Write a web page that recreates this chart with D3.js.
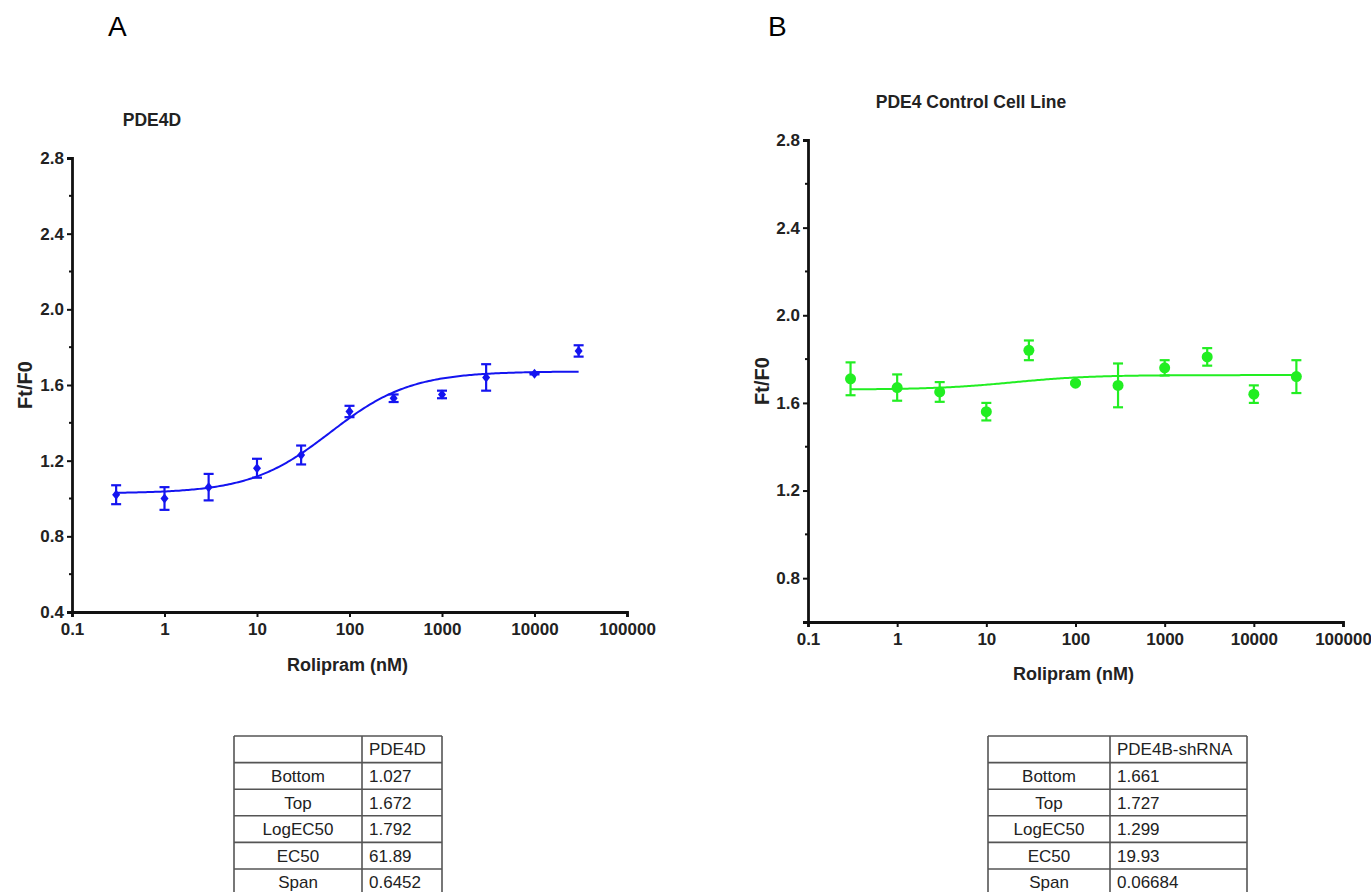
<!DOCTYPE html>
<html>
<head>
<meta charset="utf-8">
<script src="https://cdn.jsdelivr.net/npm/d3@7"></script>
<style>
  body { margin: 0; background: #fff; }
  svg { display: block; font-family: Arial, "Liberation Sans", sans-serif; }
  .tick text { font-weight: bold; font-size: 17px; fill: #222; }
</style>
</head>
<body>
<svg id="chart" width="1371" height="892"></svg>
<script>
// concentrations of rolipram (nM)
var conc = [0.3, 1, 3, 10, 30, 100, 300, 1000, 3000, 10000, 30000];

// panel A, PDE4D
var pde4dMean = [1.02, 1.00, 1.06, 1.16, 1.23, 1.46, 1.53, 1.55, 1.64, 1.66, 1.78];
var pde4dErr  = [0.05, 0.06, 0.07, 0.05, 0.05, 0.03, 0.02, 0.02, 0.07, 0.004, 0.03];

// panel B, control cell line
var ctrlMean = [1.71, 1.67, 1.65, 1.56, 1.84, 1.69, 1.68, 1.76, 1.81, 1.64, 1.72];
var ctrlErr  = [0.075, 0.06, 0.045, 0.04, 0.045, 0.005, 0.1, 0.035, 0.04, 0.04, 0.075];

var xTicks = [0.1, 1, 10, 100, 1000, 10000, 100000];
var yTicksA = [0.4, 0.8, 1.2, 1.6, 2.0, 2.4, 2.8];
var yTicksB = [0.8, 1.2, 1.6, 2.0, 2.4, 2.8];

// fit results shown in the tables
var fitLabels = ["Bottom", "Top", "LogEC50", "EC50", "Span"];
var pde4dFit = ["1.027", "1.672", "1.792", "61.89", "0.6452"];
var ctrlFit  = ["1.661", "1.727", "1.299", "19.93", "0.06684"];

var svg = d3.select("#chart");

svg.append("text").attr("x", 108).attr("y", 36).attr("font-size", 28).text("A");
svg.append("text").attr("x", 768).attr("y", 36).attr("font-size", 28).text("B");

drawPanel({
    left: 72, right: 627, top: 158, bottom: 612,
    yDomain: [0.4, 2.8], yTicks: yTicksA,
    title: "PDE4D", titleX: 152, titleY: 126,
    ylabelX: 32, xlabelY: 671,
    mean: pde4dMean, err: pde4dErr,
    fit: pde4dFit, color: "#1414f0", marker: "diamond"
});

drawPanel({
    left: 808, right: 1343, top: 140, bottom: 622,
    yDomain: [0.6, 2.8], yTicks: yTicksB,
    title: "PDE4 Control Cell Line", titleX: 971, titleY: 108,
    ylabelX: 769, xlabelY: 680,
    mean: ctrlMean, err: ctrlErr,
    fit: ctrlFit, color: "#22ee22", marker: "circle"
});

drawTable(234, 362, 442, "PDE4D", pde4dFit);
drawTable(988, 1110, 1247, "PDE4B-shRNA", ctrlFit);

function drawPanel(p) {
    var x = d3.scaleLog().domain([0.1, 100000]).range([p.left, p.right]);
    var y = d3.scaleLinear().domain(p.yDomain).range([p.bottom, p.top]);
    var g = svg.append("g");

    // minor y ticks between the labelled ones
    var minor = d3.range(p.yDomain[0], p.yDomain[1] + 0.001, 0.2)
        .filter(v => !p.yTicks.some(t => Math.abs(t - v) < 0.01));
    g.selectAll(".minor").data(minor).enter().append("line")
        .attr("x1", p.left - 3).attr("x2", p.left)
        .attr("y1", d => y(d)).attr("y2", d => y(d))
        .attr("stroke", "#111").attr("stroke-width", 2);

    var yAxis = g.append("g")
        .attr("transform", "translate(" + p.left + ",0)")
        .call(d3.axisLeft(y).tickValues(p.yTicks).tickFormat(d3.format(".1f")).tickSize(5).tickPadding(3));
    var xAxis = g.append("g")
        .attr("transform", "translate(0," + p.bottom + ")")
        .call(d3.axisBottom(x).tickValues(xTicks).tickFormat(d => String(d)).tickSize(5).tickPadding(6));
    [xAxis, yAxis].forEach(a => {
        a.select(".domain").attr("stroke", "#111").attr("stroke-width", 2.8);
        a.selectAll(".tick line").attr("stroke", "#111").attr("stroke-width", 2);
    });

    g.append("text").attr("x", p.titleX).attr("y", p.titleY)
        .attr("text-anchor", "middle").attr("font-weight", "bold").attr("font-size", 17.5)
        .attr("fill", "#222").text(p.title);
    g.append("text").attr("x", (p.left + p.right) / 2 - 2).attr("y", p.xlabelY)
        .attr("text-anchor", "middle").attr("font-weight", "bold").attr("font-size", 18)
        .attr("fill", "#222").text("Rolipram (nM)");
    g.append("text")
        .attr("transform", "translate(" + p.ylabelX + "," + ((p.top + p.bottom) / 2) + ") rotate(-90)")
        .attr("text-anchor", "middle").attr("font-weight", "bold").attr("font-size", 20)
        .attr("fill", "#222").text("Ft/F0");

    // four parameter logistic fit, hill slope 1, from the table values
    var bottom = +p.fit[0], top = +p.fit[1], logEC = +p.fit[2];
    var curve = d3.range(Math.log10(conc[0]), Math.log10(conc[conc.length - 1]) + 0.001, 0.02)
        .map(lx => [Math.pow(10, lx), bottom + (top - bottom) / (1 + Math.pow(10, logEC - lx))]);
    g.append("path").datum(curve)
        .attr("fill", "none").attr("stroke", p.color).attr("stroke-width", 2)
        .attr("d", d3.line().x(d => x(d[0])).y(d => y(d[1])));

    var pts = conc.map((c, i) => ({ c: c, m: p.mean[i], e: p.err[i] }));
    var bars = g.selectAll(".bar").data(pts).enter().append("g")
        .attr("stroke", p.color).attr("stroke-width", 2.2);
    bars.append("line")
        .attr("x1", d => x(d.c)).attr("x2", d => x(d.c))
        .attr("y1", d => y(d.m - d.e)).attr("y2", d => y(d.m + d.e));
    bars.append("line")
        .attr("x1", d => x(d.c) - 5).attr("x2", d => x(d.c) + 5)
        .attr("y1", d => y(d.m + d.e)).attr("y2", d => y(d.m + d.e));
    bars.append("line")
        .attr("x1", d => x(d.c) - 5).attr("x2", d => x(d.c) + 5)
        .attr("y1", d => y(d.m - d.e)).attr("y2", d => y(d.m - d.e));

    if (p.marker === "diamond") {
        g.selectAll(".pt").data(pts).enter().append("path")
            .attr("d", d => {
                var cx = x(d.c), cy = y(d.m);
                return "M" + cx + "," + (cy - 5) + "L" + (cx + 4) + "," + cy +
                    "L" + cx + "," + (cy + 5) + "L" + (cx - 4) + "," + cy + "Z";
            })
            .attr("fill", p.color);
    } else {
        g.selectAll(".pt").data(pts).enter().append("circle")
            .attr("cx", d => x(d.c)).attr("cy", d => y(d.m)).attr("r", 5.5)
            .attr("fill", p.color);
    }
}

function drawTable(x0, xMid, x1, header, values) {
    var rowTop = 736, rowH = 26.6;
    var rows = [""].concat(fitLabels);
    var t = svg.append("g").attr("font-size", 17).attr("fill", "#222");
    var yScale = d3.scaleLinear().domain([0, 1]).range([rowTop, rowTop + rowH]);

    t.selectAll(".hline").data(d3.range(rows.length + 1)).enter().append("line")
        .attr("x1", x0).attr("x2", x1)
        .attr("y1", d => yScale(d)).attr("y2", d => yScale(d))
        .attr("stroke", "#555").attr("stroke-width", 1.6);
    [x0, xMid, x1].forEach(xv => {
        t.append("line").attr("x1", xv).attr("x2", xv)
            .attr("y1", rowTop).attr("y2", 892)
            .attr("stroke", "#555").attr("stroke-width", 1.6);
    });

    t.append("text").attr("x", xMid + 7).attr("y", yScale(0.5) + 6).text(header);
    fitLabels.forEach((lab, i) => {
        t.append("text").attr("x", (x0 + xMid) / 2).attr("y", yScale(i + 1.5) + 6)
            .attr("text-anchor", "middle").text(lab);
        t.append("text").attr("x", xMid + 7).attr("y", yScale(i + 1.5) + 6).text(values[i]);
    });
}
</script>
</body>
</html>
